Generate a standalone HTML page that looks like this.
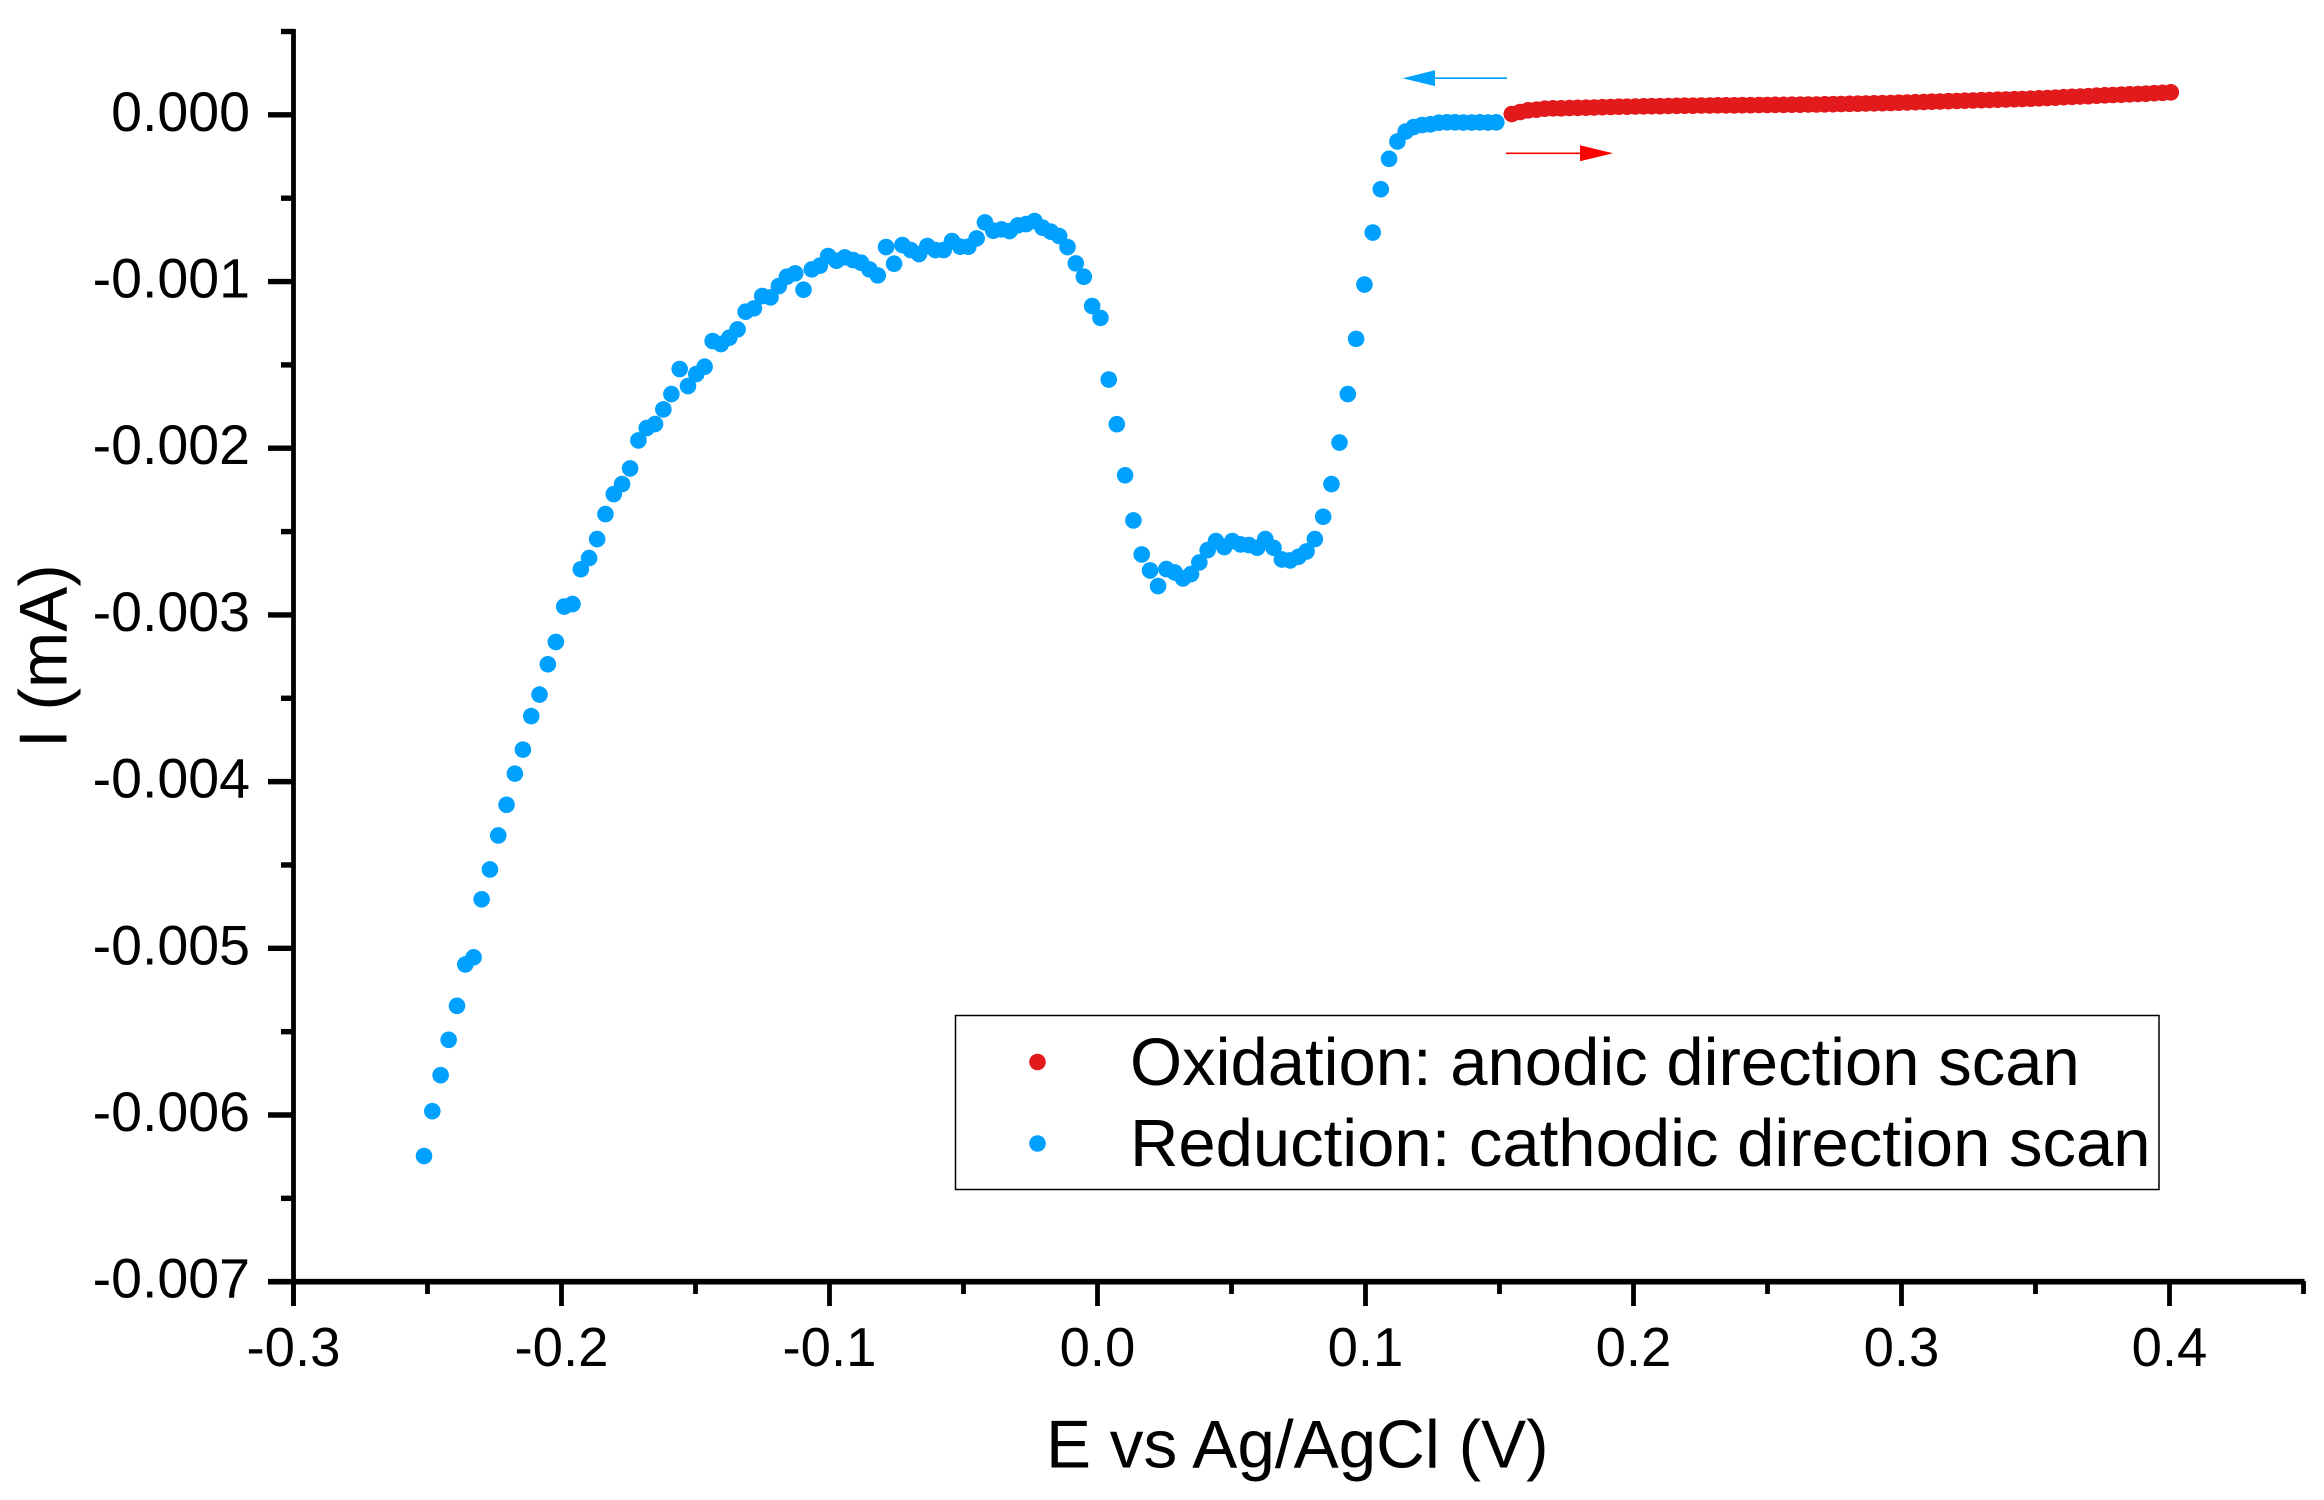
<!DOCTYPE html>
<html lang="en">
<head>
<meta charset="utf-8">
<title>Cyclic scan: I vs E</title>
<style>
  html, body { margin: 0; padding: 0; background: #ffffff; }
  svg { display: block; }
  text { font-family: "Liberation Sans", Arial, sans-serif; fill: #000000; }
</style>
</head>
<body>
<svg id="chart" xmlns="http://www.w3.org/2000/svg" width="2324" height="1500" viewBox="0 0 2324 1500">
  <rect x="0" y="0" width="2324" height="1500" fill="#ffffff"/>
  <g id="series-layer"></g>
  <g id="axis-layer"></g>

  <text x="1046" y="1467.5" font-size="67.5">E vs Ag/AgCl (V)</text>
  <text transform="translate(66.7 748) rotate(-90)" x="0" y="0" font-size="67.5">I (mA)</text>

  <g>
    <rect x="955.5" y="1015.5" width="1203.5" height="174" fill="#ffffff" stroke="#000000" stroke-width="1.5"/>
    <circle cx="1037.5" cy="1062" r="8.3" fill="#E31A1C"/>
    <text x="1130" y="1085" font-size="67">Oxidation: anodic direction scan</text>
    <circle cx="1037.5" cy="1143.5" r="8.3" fill="#00A0FF"/>
    <text x="1130" y="1166" font-size="67">Reduction: cathodic direction scan</text>
  </g>

  <g>
    <line x1="1507" y1="78.2" x2="1435" y2="78.2" stroke="#00A0FF" stroke-width="1.6"/>
    <polygon points="1402.6,78.2 1435,70.3 1435,86.1" fill="#00A0FF"/>
  </g>
  <g>
    <line x1="1506" y1="153.3" x2="1580" y2="153.3" stroke="#FF0000" stroke-width="1.6"/>
    <polygon points="1613,153.3 1580,145.3 1580,161.3" fill="#FF0000"/>
  </g>
</svg>

<script>
const reductionE = [
-0.2513,-0.2482,-0.2451,-0.2421,-0.2390,-0.2359,-0.2328,-0.2298,-0.2267,-0.2236,
-0.2205,-0.2174,-0.2144,-0.2113,-0.2082,-0.2051,-0.2021,-0.1990,-0.1959,-0.1928,
-0.1897,-0.1867,-0.1836,-0.1805,-0.1774,-0.1744,-0.1713,-0.1682,-0.1651,-0.1620,
-0.1590,-0.1559,-0.1528,-0.1497,-0.1466,-0.1436,-0.1405,-0.1374,-0.1343,-0.1313,
-0.1282,-0.1251,-0.1220,-0.1189,-0.1159,-0.1128,-0.1097,-0.1066,-0.1036,-0.1005,
-0.0974,-0.0943,-0.0912,-0.0882,-0.0851,-0.0820,-0.0789,-0.0759,-0.0728,-0.0697,
-0.0666,-0.0635,-0.0605,-0.0574,-0.0543,-0.0512,-0.0482,-0.0451,-0.0420,-0.0389,
-0.0358,-0.0328,-0.0297,-0.0266,-0.0235,-0.0205,-0.0174,-0.0143,-0.0112,-0.0081,
-0.0051,-0.0020,0.0011,0.0042,0.0072,0.0103,0.0134,0.0165,0.0196,0.0226,
0.0257,0.0288,0.0319,0.0349,0.0380,0.0411,0.0442,0.0473,0.0503,0.0534,
0.0565,0.0596,0.0626,0.0657,0.0688,0.0719,0.0750,0.0780,0.0811,0.0842,
0.0873,0.0903,0.0934,0.0965,0.0996,0.1027,0.1057,0.1088,0.1119,0.1150,
0.1180,0.1211,0.1242,0.1273,0.1304,0.1334,0.1365,0.1396,0.1427,0.1457,
0.1488
];
const reductionI = [
-0.006246,-0.005977,-0.005761,-0.005549,-0.005345,-0.005097,-0.005054,-0.004706,-0.004527,-0.004323,
-0.004139,-0.003952,-0.003808,-0.003607,-0.003478,-0.003296,-0.003162,-0.002950,-0.002935,-0.002726,
-0.002659,-0.002545,-0.002395,-0.002275,-0.002215,-0.002121,-0.001953,-0.001879,-0.001855,-0.001767,
-0.001675,-0.001525,-0.001627,-0.001555,-0.001511,-0.001357,-0.001375,-0.001337,-0.001287,-0.001181,
-0.001161,-0.001087,-0.001095,-0.001027,-0.000971,-0.000951,-0.001049,-0.000927,-0.000905,-0.000847,
-0.000875,-0.000855,-0.000871,-0.000887,-0.000927,-0.000963,-0.000793,-0.000893,-0.000781,-0.000811,
-0.000835,-0.000787,-0.000811,-0.000811,-0.000757,-0.000791,-0.000791,-0.000741,-0.000645,-0.000695,
-0.000687,-0.000697,-0.000663,-0.000655,-0.000637,-0.000677,-0.000701,-0.000727,-0.000793,-0.000891,
-0.000971,-0.001147,-0.001218,-0.001588,-0.001856,-0.002162,-0.002433,-0.002637,-0.002733,-0.002827,
-0.002725,-0.002745,-0.002781,-0.002755,-0.002685,-0.002611,-0.002557,-0.002593,-0.002557,-0.002577,
-0.002581,-0.002597,-0.002545,-0.002597,-0.002667,-0.002673,-0.002651,-0.002619,-0.002545,-0.002411,
-0.002215,-0.001966,-0.001675,-0.001344,-0.001018,-0.000706,-0.000446,-0.000264,-0.000160,-0.000100,
-0.000073,-0.000061,-0.000057,-0.000047,-0.000045,-0.000045,-0.000046,-0.000046,-0.000045,-0.000046,
-0.000045
];
const oxidationE = [
0.1546,0.1577,0.1607,0.1638,0.1669,0.1700,0.1730,0.1761,0.1792,0.1823,
0.1853,0.1884,0.1915,0.1945,0.1976,0.2007,0.2038,0.2068,0.2099,0.2130,
0.2161,0.2191,0.2222,0.2253,0.2284,0.2314,0.2345,0.2376,0.2406,0.2437,
0.2468,0.2499,0.2529,0.2560,0.2591,0.2622,0.2652,0.2683,0.2714,0.2745,
0.2775,0.2806,0.2837,0.2867,0.2898,0.2929,0.2960,0.2990,0.3021,0.3052,
0.3083,0.3113,0.3144,0.3175,0.3206,0.3236,0.3267,0.3298,0.3328,0.3359,
0.3390,0.3421,0.3451,0.3482,0.3513,0.3544,0.3574,0.3605,0.3636,0.3667,
0.3697,0.3728,0.3759,0.3789,0.3820,0.3851,0.3882,0.3912,0.3943,0.3974,
0.4005
];
const oxidationI = [
0.000005,0.000017,0.000027,0.000031,0.000037,0.000039,0.000039,0.000041,0.000042,0.000043,
0.000044,0.000046,0.000047,0.000049,0.000049,0.000050,0.000051,0.000052,0.000052,0.000053,
0.000054,0.000055,0.000055,0.000056,0.000056,0.000057,0.000057,0.000057,0.000058,0.000058,
0.000059,0.000059,0.000060,0.000060,0.000061,0.000061,0.000062,0.000062,0.000063,0.000064,
0.000065,0.000066,0.000067,0.000068,0.000069,0.000070,0.000071,0.000073,0.000074,0.000076,
0.000077,0.000079,0.000080,0.000082,0.000083,0.000085,0.000086,0.000088,0.000089,0.000091,
0.000092,0.000094,0.000095,0.000097,0.000099,0.000101,0.000103,0.000106,0.000108,0.000110,
0.000112,0.000115,0.000117,0.000119,0.000121,0.000123,0.000125,0.000127,0.000130,0.000132,
0.000135
];
const xMajorTicks = [-0.3,-0.2,-0.1,0.0,0.1,0.2,0.3,0.4];
const xMajorLabels = ["-0.3","-0.2","-0.1","0.0","0.1","0.2","0.3","0.4"];
const xMinorTicks = [-0.25,-0.15,-0.05,0.05,0.15,0.25,0.35,0.45];
const yMajorTicks = [0,-0.001,-0.002,-0.003,-0.004,-0.005,-0.006,-0.007];
const yMajorLabels = ["0.000","-0.001","-0.002","-0.003","-0.004","-0.005","-0.006","-0.007"];
const yMinorTicks = [0.0005,-0.0005,-0.0015,-0.0025,-0.0035,-0.0045,-0.0055,-0.0065];
const xDomain = [-0.3, 0.45];
const yDomain = [-0.007, 0.0005];

const SVG_NS = "http://www.w3.org/2000/svg";
function xScale(v) { return 293.5 + (v - xDomain[0]) / (xDomain[1] - xDomain[0]) * 2010; }
function yScale(v) { return 1281.7 - (v - yDomain[0]) / (yDomain[1] - yDomain[0]) * 1250.2; }

const seriesLayer = document.getElementById("series-layer");
const axisLayer = document.getElementById("axis-layer");

function make(tag, attrs, parent) {
  const el = document.createElementNS(SVG_NS, tag);
  for (const k in attrs) el.setAttribute(k, attrs[k]);
  parent.appendChild(el);
  return el;
}

reductionE.forEach(function (e, i) {
  const c = make("circle", { cx: xScale(e), cy: yScale(reductionI[i]), r: 8.3, fill: "#00A0FF" }, seriesLayer);
  
  
});
oxidationE.forEach(function (e, i) {
  const c = make("circle", { cx: xScale(e), cy: yScale(oxidationI[i]), r: 8.3, fill: "#E31A1C" }, seriesLayer);
  
  
});

const yAxisLine = make("line", { x1: xScale(xDomain[0]), x2: xScale(xDomain[0]), y1: 29, y2: 1306, stroke: "#000", "stroke-width": 4.8 }, axisLayer);


const xAxisLine = make("line", { x1: 268, x2: xScale(xDomain[1]) + 1, y1: yScale(yDomain[0]), y2: yScale(yDomain[0]), stroke: "#000", "stroke-width": 5.6 }, axisLayer);



xMajorTicks.forEach(function (v, i) {
  const px = xScale(v);
  const t = make("line", { x1: px, x2: px, y1: 1281, y2: 1306, stroke: "#000", "stroke-width": 4.8 }, axisLayer);
  
  
  const lab = make("text", { x: px, y: 1366, "font-size": 54.5, "text-anchor": "middle" }, axisLayer);
  
  
  lab.textContent = xMajorLabels[i];
});
xMinorTicks.forEach(function (v) {
  const px = xScale(v);
  const t = make("line", { x1: px, x2: px, y1: 1281, y2: 1294, stroke: "#000", "stroke-width": 4.8 }, axisLayer);
  
  
});
yMajorTicks.forEach(function (v, i) {
  const py = yScale(v);
  const t = make("line", { x1: 268, x2: 294, y1: py, y2: py, stroke: "#000", "stroke-width": 5.4 }, axisLayer);
  
  
  const lab = make("text", { x: 250, y: py + 16, "font-size": 55.5, "text-anchor": "end" }, axisLayer);
  
  
  lab.textContent = yMajorLabels[i];
});
yMinorTicks.forEach(function (v) {
  const py = yScale(v);
  const t = make("line", { x1: 281, x2: 294, y1: py, y2: py, stroke: "#000", "stroke-width": 5.4 }, axisLayer);
  
  
});
</script>
</body>
</html>
